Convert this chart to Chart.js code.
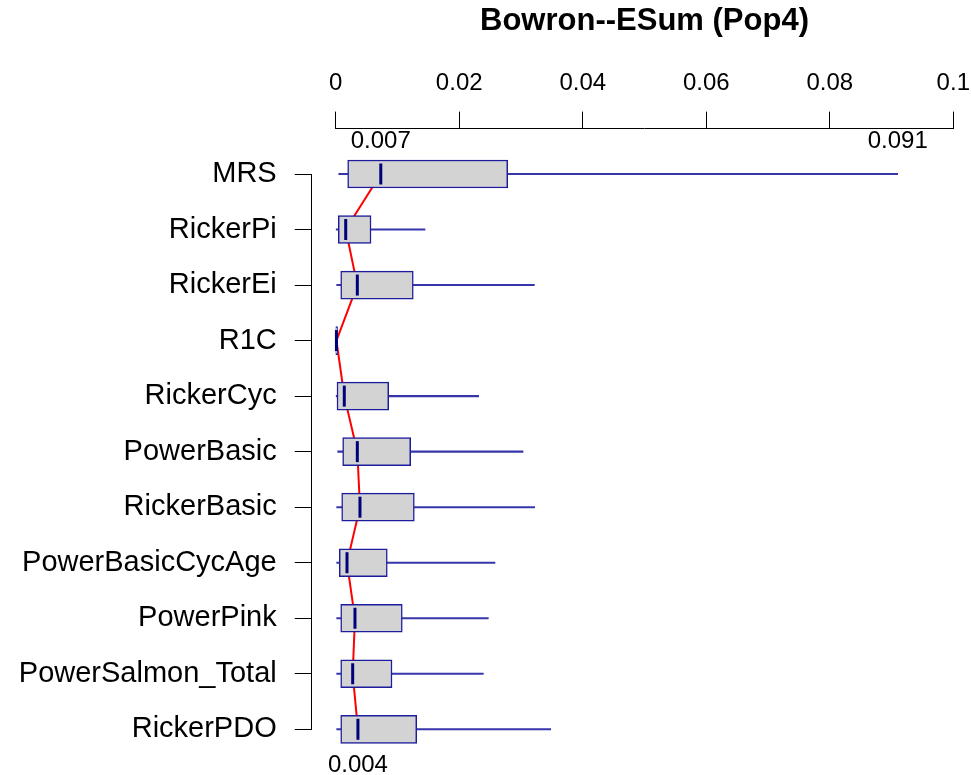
<!DOCTYPE html>
<html>
<head>
<meta charset="utf-8">
<script src="https://cdn.jsdelivr.net/npm/chart.js@4/dist/chart.umd.min.js"></script>
<style>
  html, body { margin: 0; padding: 0; background: #fff; }
  canvas { display: block; }
</style>
</head>
<body>
<canvas id="boxChart" width="971" height="775"></canvas>
<script>
// model names, top to bottom
const categories = ['MRS', 'RickerPi', 'RickerEi', 'R1C', 'RickerCyc', 'PowerBasic',
  'RickerBasic', 'PowerBasicCycAge', 'PowerPink', 'PowerSalmon_Total', 'RickerPDO'];

// five-number summaries
const whiskerLow  = [0.0005, 0.0000, 0.00016, 0.0000, 0.0000, 0.00032, 0.00016, 0.00016, 0.00016, 0.00016, 0.00016];
const q1          = [0.00194, 0.00042, 0.00081, 0.00002, 0.00021, 0.00113, 0.00097, 0.00058, 0.00081, 0.00081, 0.00081];
const medians     = [0.0073, 0.00162, 0.0035, 0.00012, 0.00139, 0.0035, 0.00393, 0.00183, 0.00312, 0.00275, 0.0036];
const q3          = [0.02785, 0.00572, 0.01256, 0.0003, 0.00858, 0.01214, 0.01273, 0.00835, 0.01078, 0.00912, 0.01312];
const whiskerHigh = [0.0910, 0.01446, 0.03217, 0.0003, 0.02315, 0.03033, 0.03222, 0.02579, 0.02471, 0.0239, 0.03481];

// top axis
const xTickValues = [0, 0.02, 0.04, 0.06, 0.08, 0.1];
const xTickLabels = ['0', '0.02', '0.04', '0.06', '0.08', '0.1'];

// printed value labels
const labelRows   = ['MRS', 'MRS', 'RickerPDO'];
const labelValues = [0.0073, 0.0910, 0.0036];
const labelSide   = [-1, -1, 1];

const FONT = "'Liberation Sans', Arial, sans-serif";
const NAVY = '#1c1c9c';

// R draws its axes a little away from the plot region
const axisOffset = {
  id: 'axisOffset',
  afterLayout(chart) {
    const x = chart.scales.x, y = chart.scales.y;
    x.top -= 45.7; x.bottom -= 45.7;
    y.left -= 24; y.right -= 24;
  }
};

const valueLabels = {
  id: 'valueLabels',
  afterDatasetsDraw(chart) {
    const ctx = chart.ctx, x = chart.scales.x, y = chart.scales.y;
    ctx.save();
    ctx.font = '24px ' + FONT;
    ctx.fillStyle = '#000';
    ctx.textAlign = 'center';
    ctx.textBaseline = 'middle';
    labelRows.forEach((row, i) => {
      const px = x.getPixelForValue(labelValues[i]);
      const py = y.getPixelForValue(categories.indexOf(row)) + labelSide[i] * (labelSide[i] < 0 ? 33 : 36);
      ctx.fillText(labelValues[i].toFixed(3), px, py);
    });
    ctx.restore();
  }
};

const ctx = document.getElementById('boxChart').getContext('2d');
new Chart(ctx, {
  type: 'bar',
  data: {
    labels: categories,
    datasets: [
      {
        label: 'whisker',
        data: categories.map((c, i) => [whiskerLow[i], whiskerHigh[i]]),
        backgroundColor: '#3636aa',
        borderWidth: 0,
        barThickness: 1.4,
        grouped: false,
        clip: false,
        order: 5
      },
      {
        type: 'line',
        label: 'median trend',
        data: categories.map((c, i) => ({ x: medians[i], y: c })),
        borderColor: '#ff0000',
        borderWidth: 2,
        pointRadius: 0,
        tension: 0,
        clip: false,
        order: 4
      },
      {
        label: 'box',
        data: categories.map((c, i) => [q1[i], q3[i]]),
        backgroundColor: '#d3d3d3',
        borderColor: NAVY,
        borderWidth: 1.5,
        borderSkipped: false,
        barThickness: 28,
        grouped: false,
        clip: false,
        order: 3
      },
      {
        type: 'line',
        label: 'median',
        data: categories.map((c, i) => ({ x: medians[i], y: c })),
        showLine: false,
        pointStyle: 'line',
        rotation: 90,
        pointRadius: 10.5,
        pointBorderWidth: 3,
        pointBorderColor: '#00007a',
        borderColor: '#00007a',
        clip: false,
        order: 1
      }
    ]
  },
  options: {
    indexAxis: 'y',
    responsive: false,
    animation: false,
    layout: { padding: { left: 0, right: 17.7, top: 0, bottom: 45.7 } },
    plugins: {
      legend: { display: false },
      tooltip: { enabled: false },
      title: {
        display: true,
        text: 'Bowron--ESum (Pop4)',
        fullSize: false,
        color: '#000',
        font: { family: FONT, size: 31, weight: 'bold' },
        padding: { top: 3, bottom: 60.5 }
      }
    },
    scales: {
      x: {
        type: 'linear',
        position: 'top',
        min: 0,
        max: 0.1,
        afterBuildTicks: s => { s.ticks = xTickValues.map(v => ({ value: v })); },
        afterFit: s => { s.paddingLeft = 0; s.paddingRight = 0; },
        ticks: {
          color: '#000',
          padding: 13.9,
          font: { family: FONT, size: 24 },
          callback: (v, i) => xTickLabels[i]
        },
        grid: { drawOnChartArea: false, tickLength: 16.7, color: '#000', lineWidth: 1 },
        border: { display: true, color: '#000', width: 1 }
      },
      y: {
        type: 'category',
        position: 'left',
        offset: false,
        afterFit: s => { s.width = 335.7; },
        ticks: {
          color: '#000',
          padding: 18,
          font: { family: FONT, size: 29 }
        },
        grid: { offset: false, drawOnChartArea: false, tickLength: 17, color: '#000', lineWidth: 1 },
        border: { display: true, color: '#000', width: 1 }
      }
    }
  },
  plugins: [axisOffset, valueLabels]
});
</script>
</body>
</html>
